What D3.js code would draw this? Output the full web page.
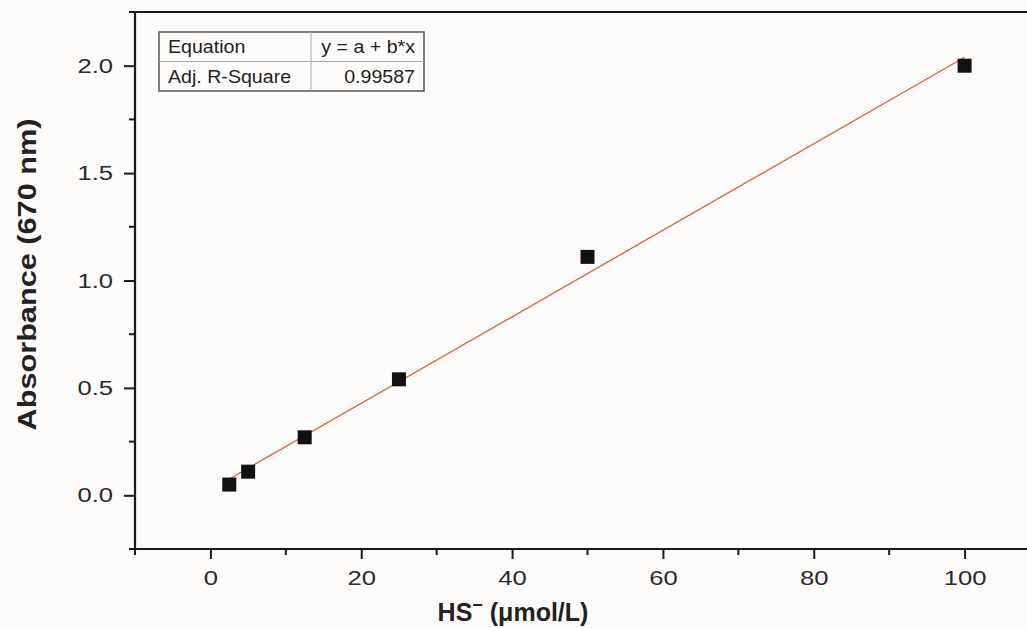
<!DOCTYPE html>
<html>
<head>
<meta charset="utf-8">
<script src="https://cdn.jsdelivr.net/npm/d3@7"></script>
<style>
  html, body { margin: 0; padding: 0; background: #fdfcfb; }
  svg { display: block; }
</style>
</head>
<body>
<svg id="chart" width="1027" height="628"></svg>
<script>
// HS- concentration (umol/L) vs absorbance at 670 nm
const concentrations = [2.5, 5, 12.5, 25, 50, 100]
const absorbances = [0.05, 0.11, 0.27, 0.54, 1.11, 2.0]

const xTicks = [0, 20, 40, 60, 80, 100]
const yTicks = [0.0, 0.5, 1.0, 1.5, 2.0]
const tableRows = [
  ['Equation', 'y = a + b*x'],
  ['Adj. R-Square', '0.99587']
]

const svg = d3.select('#chart')
const margin = { left: 135, top: 12, bottom: 79 }
const height = 628

const x = d3.scaleLinear().domain([-10, 110]).range([margin.left, 1040])
const y = d3.scaleLinear().domain([-0.25, 2.25]).range([height - margin.bottom, margin.top])

const ink = '#1a1a1a'
const font = 'Liberation Sans, Arial, sans-serif'

// the source picture is stretched sideways, so widen the glyphs a bit
const stretch = (sel, k) => {
  sel.each(function () {
    const len = this.getComputedTextLength()
    d3.select(this).attr('textLength', len * k).attr('lengthAdjust', 'spacingAndGlyphs')
  })
}

// least squares fit of the points
const mx = d3.mean(concentrations)
const my = d3.mean(absorbances)
const sxy = d3.sum(concentrations, (c, i) => (c - mx) * (absorbances[i] - my))
const sxx = d3.sum(concentrations, (c) => (c - mx) * (c - mx))
const slope = sxy / sxx
const intercept = my - slope * mx
const xExtent = d3.extent(concentrations)

// axes
const xMinor = d3.range(-10, 111, 10).filter((v) => !xTicks.includes(v))
const yMinor = d3.range(-0.25, 2.26, 0.5)

const xAxis = svg.append('g')
  .attr('transform', `translate(0, ${y(-0.25)})`)
  .call(d3.axisBottom(x).tickValues(xTicks).tickFormat(d3.format('d')).tickSize(10).tickPadding(11))
xAxis.append('g')
  .selectAll('line')
  .data(xMinor)
  .enter()
  .append('line')
  .attr('x1', (d) => x(d))
  .attr('x2', (d) => x(d))
  .attr('y1', 0)
  .attr('y2', 6)

const yAxis = svg.append('g')
  .attr('transform', `translate(${x(-10)}, 0)`)
  .call(d3.axisLeft(y).tickValues(yTicks).tickFormat(d3.format('.1f')).tickSize(11).tickPadding(11))
yAxis.append('g')
  .selectAll('line')
  .data(yMinor)
  .enter()
  .append('line')
  .attr('x1', 0)
  .attr('x2', -6)
  .attr('y1', (d) => y(d))
  .attr('y2', (d) => y(d))

svg.selectAll('.domain').attr('stroke', ink).attr('stroke-width', 2.2)
xAxis.select('.domain').attr('d', `M${x(-10)},0H${x(110)}`)
yAxis.select('.domain').attr('d', `M0,${y(-0.25)}V${y(2.25)}`)
xAxis.selectAll('line').attr('stroke', ink).attr('stroke-width', 2)
yAxis.selectAll('line').attr('stroke', ink).attr('stroke-width', 2)
svg.selectAll('.tick text')
  .attr('font-family', font)
  .attr('font-size', 20.5)
  .attr('fill', '#2a2a2a')
  .call(stretch, 1.25)

// top frame line
svg.append('line')
  .attr('x1', x(-10))
  .attr('x2', x(110))
  .attr('y1', y(2.25))
  .attr('y2', y(2.25))
  .attr('stroke', ink)
  .attr('stroke-width', 2.2)

// fit line
svg.append('line')
  .attr('x1', x(xExtent[0]))
  .attr('y1', y(intercept + slope * xExtent[0]))
  .attr('x2', x(xExtent[1]))
  .attr('y2', y(intercept + slope * xExtent[1]))
  .attr('stroke', '#e4583f')
  .attr('stroke-width', 1.3)

// points
const size = 14
svg.append('g')
  .selectAll('rect')
  .data(concentrations)
  .enter()
  .append('rect')
  .attr('x', (d) => x(d) - size / 2)
  .attr('y', (d, i) => y(absorbances[i]) - size / 2)
  .attr('width', size)
  .attr('height', size)
  .attr('fill', '#111')

// stats table
const table = svg.append('g').attr('transform', 'translate(159, 32)')
const colX = [0, 152, 265]
const rowH = 29.5
table.append('rect')
  .attr('width', colX[2])
  .attr('height', rowH * 2)
  .attr('fill', '#fdfcfb')
  .attr('stroke', '#555')
  .attr('stroke-width', 1.5)
table.append('line')
  .attr('x1', 0).attr('x2', colX[2])
  .attr('y1', rowH).attr('y2', rowH)
  .attr('stroke', '#aaa').attr('stroke-width', 1)
table.append('line')
  .attr('x1', colX[1]).attr('x2', colX[1])
  .attr('y1', 0).attr('y2', rowH * 2)
  .attr('stroke', '#aaa').attr('stroke-width', 1)
tableRows.forEach((row, i) => {
  table.append('text')
    .attr('x', 9)
    .attr('y', rowH * i + 21)
    .attr('font-family', font)
    .attr('font-size', 17.5)
    .attr('fill', '#222')
    .text(row[0])
    .call(stretch, 1.12)
  table.append('text')
    .attr('x', colX[2] - 9)
    .attr('y', rowH * i + 21)
    .attr('text-anchor', 'end')
    .attr('font-family', font)
    .attr('font-size', 17.5)
    .attr('fill', '#222')
    .text(row[1])
    .call(stretch, 1.12)
})

// axis titles
svg.append('text')
  .attr('transform', `translate(36, ${(y(-0.25) + y(2.25)) / 2 - 6}) rotate(-90)`)
  .attr('text-anchor', 'middle')
  .attr('font-family', font)
  .attr('font-weight', 'bold')
  .attr('font-size', 25)
  .attr('fill', '#222')
  .attr('textLength', 312)
  .attr('lengthAdjust', 'spacingAndGlyphs')
  .text('Absorbance (670 nm)')

const xTitle = svg.append('text')
  .attr('x', 513)
  .attr('y', 621)
  .attr('text-anchor', 'middle')
  .attr('font-family', font)
  .attr('font-weight', 'bold')
  .attr('font-size', 25)
  .attr('fill', '#222')
xTitle.append('tspan').text('HS')
xTitle.append('tspan').attr('dy', -10).attr('font-size', 18).text('−')
xTitle.append('tspan').attr('dy', 10).text(' (μmol/L)')
</script>
</body>
</html>
